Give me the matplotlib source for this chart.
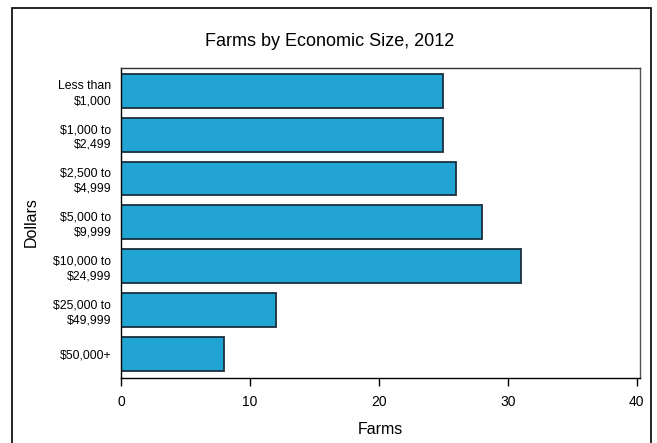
import matplotlib
matplotlib.use("Agg")
import matplotlib.pyplot as plt
from matplotlib.patches import Rectangle

categories = ["Less than\n$1,000", "$1,000 to\n$2,499", "$2,500 to\n$4,999",
              "$5,000 to\n$9,999", "$10,000 to\n$24,999", "$25,000 to\n$49,999",
              "$50,000+"]
farms = [25, 25, 26, 28, 31, 12, 8]
xticks = [0, 10, 20, 30, 40]

plt.rcParams['font.family'] = ['Liberation Sans', 'DejaVu Sans']

W, H = 657, 443
fig = plt.figure(figsize=(W / 100, H / 100), dpi=100)
fig.patch.set_facecolor('white')

# outer frame
fig.patches.append(Rectangle((12 / W, -0.1), (651 - 12) / W, (H - 8) / H + 0.1,
                             transform=fig.transFigure, fill=False,
                             edgecolor='black', lw=1.2))

ax = fig.add_axes([121 / W, 1 - 378 / H, (640 - 121) / W, (378 - 68) / H])
pos = list(range(len(categories)))
ax.barh(pos, farms, height=0.77, color='#21A3D3', edgecolor='#1b2f3c', lw=1.3)
ax.set_ylim(6.55, -0.52)
ax.set_xlim(0, 40.25)
ax.set_xticks(xticks)
ax.set_xticklabels([str(t) for t in xticks], fontsize=10)
ax.set_yticks(pos)
ax.set_yticklabels(categories, fontsize=8.8, ha='right', linespacing=1.3)
ax.tick_params(axis='y', length=0, pad=7)
ax.tick_params(axis='x', length=6, width=1, pad=6, direction='out')
for s in ax.spines.values():
    s.set_linewidth(1)
ax.spines['right'].set_color('#555555')
ax.spines['top'].set_color('#333333')

fig.text(330 / W, 1 - 41 / H, "Farms by Economic Size, 2012", ha='center',
         va='center', fontsize=13)
fig.text(380 / W, 1 - 430 / H, "Farms", ha='center', va='center', fontsize=11.5)
fig.text(31 / W, 1 - 222 / H, "Dollars", ha='center', va='center', fontsize=11.5,
         rotation=90)

fig.savefig("out.png", dpi=100)
